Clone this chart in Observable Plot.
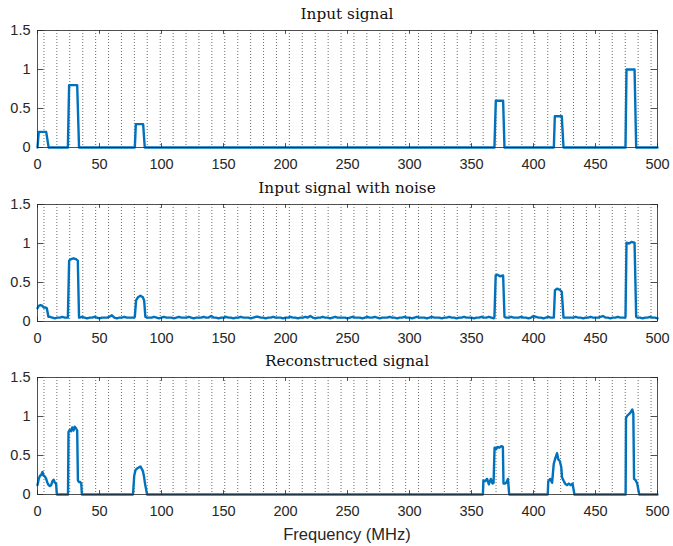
<!DOCTYPE html>
<html>
<head>
<meta charset="utf-8">
<script src="https://cdn.jsdelivr.net/npm/d3@7"></script>
<script src="https://cdn.jsdelivr.net/npm/@observablehq/plot@0.6"></script>
<style>
  html, body { margin: 0; padding: 0; background: #fff; }
  #root { position: relative; width: 673px; height: 546px; background: #fff; overflow: hidden; }
  .title { position: absolute; left: 37px; width: 620px; text-align: center; font-family: "DejaVu Serif", serif; font-size: 15.3px; line-height: 18px; color: #111; }
  .xlabel { position: absolute; left: 37px; width: 620px; text-align: center; font-family: "Liberation Sans", Arial, sans-serif; font-size: 16.5px; line-height: 20px; color: #262626; }
  .panel { position: absolute; left: 0; }
</style>
</head>
<body>
<div id="root"></div>
<script>
// ---- data ----
const titles = ["Input signal", "Input signal with noise", "Reconstructed signal"];
const xAxisLabel = "Frequency (MHz)";
const xTicks = [0, 50, 100, 150, 200, 250, 300, 350, 400, 450, 500];
const xTickLabels = ["0", "50", "100", "150", "200", "250", "300", "350", "400", "450", "500"];
const yTicks = [0, 0.5, 1, 1.5];
const yTickLabels = ["0", "0.5", "1", "1.5"];
const gridX = [5.2, 15.6, 26.0, 36.5, 46.9, 57.3, 67.7, 78.1, 88.5, 99.0, 109.4, 119.8, 130.2, 140.6, 151.0, 161.5,
  171.9, 182.3, 192.7, 203.1, 213.5, 224.0, 234.4, 244.8, 255.2, 265.6, 276.0, 286.5, 296.9, 307.3, 317.7, 328.1,
  338.5, 349.0, 359.4, 369.8, 380.2, 390.6, 401.0, 411.5, 421.9, 432.3, 442.7, 453.1, 463.5, 474.0, 484.4, 494.8];

// Input signal (clean) : [frequency, amplitude]
const inputSignal = [
  [0, 0], [1, 0.2], [7, 0.2], [9, 0],
  [24.5, 0], [25.5, 0.8], [32, 0.8], [33.5, 0],
  [78.5, 0], [79.3, 0.3], [85.2, 0.3], [86.5, 0],
  [368.5, 0], [369.6, 0.6], [375.5, 0.6], [376.6, 0],
  [416.4, 0], [417.2, 0.4], [422.8, 0.4], [424.2, 0],
  [474.2, 0], [475, 1.0], [481.5, 1.0], [482.8, 0],
  [500, 0]
];

// Noisy signal: band segments
const noisyBands = [
  [[0, 0.17], [1, 0.2], [2.5, 0.21], [4, 0.2], [5, 0.18], [6.5, 0.18], [7.5, 0.17], [8.8, 0.06]],
  [[24.5, 0.05], [25.5, 0.78], [27, 0.8], [29, 0.81], [31, 0.8], [32.5, 0.78], [33.5, 0.05]],
  [[78.5, 0.06], [79.5, 0.27], [81, 0.31], [83, 0.33], [85, 0.31], [86, 0.27], [87, 0.06]],
  [[368.5, 0.06], [369.5, 0.59], [371, 0.6], [373, 0.58], [375.5, 0.59], [376.6, 0.06]],
  [[416.4, 0.05], [417.3, 0.4], [419, 0.42], [421, 0.41], [422.8, 0.38], [424.2, 0.05]],
  [[474.2, 0.06], [475, 1.01], [477, 1.0], [479, 1.02], [481.5, 1.01], [482.8, 0.06]]
];
// Noise floor sampled every 2 MHz from 0 to 500
const floorStep = 2;
const noiseFloor = [
  0.05,0.05,0.05,0.05,0.06,0.06,0.05,0.04,0.05,0.05,0.06,0.05,0.05,0.04,0.05,0.05,0.05,0.05,0.06,0.05,0.04,0.05,0.05,0.06,0.05,
  0.04,0.05,0.05,0.05,0.06,0.08,0.05,0.04,0.05,0.05,0.06,0.05,0.05,0.05,0.05,0.04,0.05,0.05,0.06,0.05,0.05,0.05,0.06,0.05,0.04,
  0.05,0.06,0.05,0.05,0.05,0.04,0.05,0.06,0.05,0.05,0.05,0.06,0.05,0.04,0.05,0.05,0.05,0.06,0.05,0.05,0.07,0.05,0.05,0.04,0.05,
  0.05,0.06,0.05,0.05,0.04,0.05,0.05,0.06,0.05,0.05,0.05,0.04,0.05,0.06,0.06,0.05,0.05,0.04,0.05,0.05,0.06,0.05,0.05,0.05,0.04,
  0.05,0.05,0.06,0.05,0.05,0.04,0.05,0.05,0.06,0.05,0.07,0.05,0.04,0.05,0.05,0.06,0.05,0.05,0.04,0.05,0.06,0.05,0.05,0.05,0.05,
  0.04,0.05,0.06,0.05,0.05,0.05,0.04,0.05,0.06,0.05,0.05,0.06,0.05,0.04,0.05,0.05,0.05,0.06,0.05,0.05,0.04,0.05,0.05,0.06,0.05,
  0.05,0.04,0.05,0.06,0.05,0.05,0.05,0.04,0.05,0.06,0.05,0.05,0.05,0.04,0.05,0.05,0.06,0.05,0.05,0.04,0.05,0.05,0.06,0.05,0.05,
  0.05,0.04,0.05,0.05,0.06,0.05,0.05,0.06,0.05,0.04,0.05,0.05,0.06,0.05,0.05,0.05,0.06,0.05,0.05,0.05,0.06,0.05,0.05,0.04,0.05,
  0.07,0.06,0.05,0.05,0.04,0.05,0.06,0.05,0.05,0.05,0.04,0.05,0.06,0.05,0.05,0.05,0.05,0.06,0.05,0.05,0.04,0.05,0.05,0.06,0.05,
  0.05,0.05,0.06,0.07,0.05,0.05,0.04,0.05,0.05,0.06,0.05,0.05,0.05,0.04,0.05,0.05,0.06,0.05,0.05,0.04,0.05,0.05,0.06,0.05,0.05,
  0.04
];

// Reconstructed signal : [frequency, amplitude]
const reconstructed = [
  [0, 0.12], [1, 0.2], [2, 0.24], [3, 0.25], [4, 0.29], [5, 0.24], [6, 0.23], [7, 0.2], [8, 0.15], [9, 0.12],
  [10, 0.11], [11, 0.12], [12, 0.17], [13, 0.19], [14, 0.15], [15, 0.14], [15.6, 0],
  [24.6, 0], [25, 0.8], [26, 0.83], [27, 0.81], [28, 0.86], [29, 0.82], [30, 0.87], [31, 0.85], [32, 0.82],
  [32.6, 0.18], [33.5, 0.16], [34.5, 0.16], [35.3, 0.14], [35.8, 0],
  [77, 0], [78, 0.24], [79, 0.31], [80, 0.33], [81, 0.34], [82, 0.35], [83, 0.36], [84, 0.33], [85, 0.3],
  [86, 0.22], [86.8, 0.13], [88.4, 0],
  [359.2, 0], [359.6, 0.18], [361, 0.17], [362.6, 0.2], [364, 0.13], [365.6, 0.2], [367, 0.14], [367.8, 0.15],
  [368.6, 0.6], [369.8, 0.58], [371, 0.61], [372.5, 0.6], [374, 0.62], [375.3, 0.61], [375.8, 0.14], [377, 0.14],
  [378, 0.15], [379.4, 0.2], [380.4, 0],
  [411.5, 0], [411.9, 0.17], [413.5, 0.2], [415, 0.15], [416.3, 0.39], [417.5, 0.46], [419, 0.53], [420, 0.45],
  [421.2, 0.43], [422.4, 0.35], [423, 0.22], [424.2, 0.18], [425.5, 0.14], [427, 0.12], [428.5, 0.14], [430, 0.12],
  [431.5, 0.14], [433, 0],
  [474.3, 0], [474.6, 0.98], [475.6, 1.01], [477, 1.03], [478.2, 1.05], [479.7, 1.09], [480.5, 1.04], [481.1, 0.2],
  [482.5, 0.18], [483.6, 0.14], [485.3, 0],
  [500, 0]
];

// ---- build tables ----
const toRows = arr => arr.map(([f, v]) => ({f, v}));
const bandRanges = noisyBands.map(b => [b[0][0], b[b.length - 1][0]]);
const noisyRows = [];
noiseFloor.forEach((v, i) => {
  const f = i * floorStep;
  if (!bandRanges.some(([a, b]) => f >= a && f <= b)) noisyRows.push({f, v});
});
noisyBands.forEach(b => b.forEach(([f, v]) => noisyRows.push({f, v})));
noisyRows.sort((a, b) => a.f - b.f);

const seriesList = [toRows(inputSignal), noisyRows, toRows(reconstructed)];
const panelTops = [20, 194, 367];
const titleTops = [5, 179, 352];

const root = document.getElementById("root");
const axisColor = "#262626";

seriesList.forEach((rows, k) => {
  const t = document.createElement("div");
  t.className = "title";
  t.style.top = titleTops[k] + "px";
  t.textContent = titles[k];
  root.appendChild(t);

  const chart = Plot.plot({
    width: 673,
    height: 157,
    marginTop: 10,
    marginBottom: 30,
    marginLeft: 37,
    marginRight: 16,
    x: {domain: [0, 500]},
    y: {domain: [0, 1.5]},
    style: {fontFamily: "'Liberation Sans', Arial, sans-serif", fontSize: "14.5px", color: axisColor, background: "transparent", overflow: "visible"},
    marks: [
      Plot.ruleX(gridX, {stroke: "#222", strokeWidth: 0.8, strokeDasharray: "1,2", strokeOpacity: 0.85}),
      Plot.line(rows, {x: "f", y: "v", stroke: "#0072BD", strokeWidth: 2.4, strokeLinejoin: "round"}),
      Plot.frame({stroke: axisColor, strokeWidth: 0.8}),
      Plot.ruleX(xTicks, {y1: 0, y2: 0.05, stroke: axisColor, strokeWidth: 0.8}),
      Plot.ruleX(xTicks, {y1: 1.45, y2: 1.5, stroke: axisColor, strokeWidth: 0.8}),
      Plot.ruleY(yTicks, {x1: 0, x2: 5, stroke: axisColor, strokeWidth: 0.8}),
      Plot.ruleY(yTicks, {x1: 495, x2: 500, stroke: axisColor, strokeWidth: 0.8}),
      Plot.axisX(xTicks, {tickSize: 0, tickPadding: 11, label: null, tickFormat: d => xTickLabels[xTicks.indexOf(d)]}),
      Plot.axisY(yTicks, {tickSize: 0, tickPadding: 7, label: null, tickFormat: d => yTickLabels[yTicks.indexOf(d)]})
    ]
  });
  chart.classList.add("panel");
  chart.style.top = panelTops[k] + "px";
  root.appendChild(chart);
});

const xl = document.createElement("div");
xl.className = "xlabel";
xl.style.top = "524px";
xl.textContent = xAxisLabel;
root.appendChild(xl);
</script>
</body>
</html>
